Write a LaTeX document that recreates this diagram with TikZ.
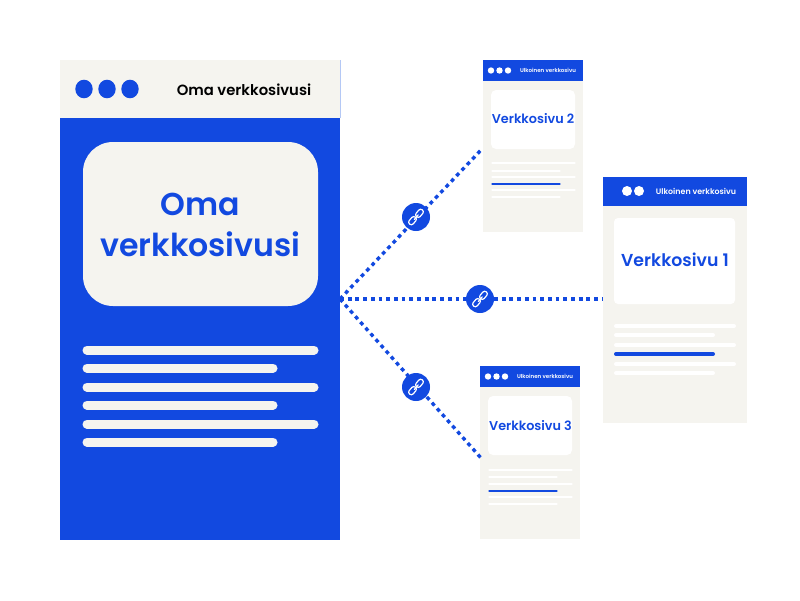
\documentclass[tikz,border=0pt]{standalone}
\usepackage{fontspec}
\setmainfont[UprightFont=* Medium,BoldFont=* SemiBold]{Poppins}
\definecolor{brand}{HTML}{1249E0}
\definecolor{paper}{HTML}{F5F4EF}
\definecolor{edge}{HTML}{B4C8F5}
\tikzset{
  panel/.style={rectangle,inner sep=0pt,outer sep=0pt,anchor=north west},
  bar/.style={line cap=round,line width=#1},
  dotline/.style={draw=brand,line width=3.4pt,dash pattern=on 3.8pt off 3.9pt},
  linkdisc/.style={circle,fill=brand,inner sep=0pt,minimum size=28pt},
  pics/chainicon/.style={code={
    \draw[white,line width=1.2pt,rounded corners=2.4pt,rotate=50] (-9.5,-2.9) rectangle (-0.6,2.3);
    \draw[white,line width=1.2pt,rounded corners=2.4pt,rotate=50] (0.6,-2.3) rectangle (9.5,2.9);
    \draw[white,line width=1.2pt,line cap=round,rotate=50] (-3,0.3) -- (3,0.3);
  }}
}
\begin{document}
\begin{tikzpicture}[x=1pt,y=-1pt]
\useasboundingbox[fill=white] (0,0) rectangle (800,600);
% main page
\node[panel,fill=brand,minimum width=280pt,minimum height=480pt] (main) at (60,60) {};
\node[panel,fill=paper,minimum width=280pt,minimum height=58pt] (mainhead) at (60,60) {};
\draw[edge,line width=0.8pt] (340,60) -- (340,118);
\fill[brand] (84,89) ellipse (8.7 and 9.3) (107,89) ellipse (8.7 and 9.3) (130,89) ellipse (8.7 and 9.3);
\node[inner sep=0pt,font=\fontsize{14.8}{17}\selectfont\bfseries,text=black] (maintitle) at (244,89.5) {Oma verkkosivusi};
\node[panel,fill=paper,rounded corners=30pt,minimum width=235pt,minimum height=164pt] (maincard) at (83,142) {};
\node[inner sep=0pt,font=\fontsize{31.6}{41}\selectfont\bfseries,text=brand,align=center] (maintext) at (200.5,225) {Oma\\verkkosivusi};
\foreach \y/\e in {350/318,368/277,387/318,405/277,424/318,442/277}
  \draw[paper,bar=9pt] (87,\y) -- (\e-4,\y);
% window 1
\node[panel,fill=paper,minimum width=144pt,minimum height=246pt] (win1) at (603,177) {};
\node[panel,fill=brand,minimum width=144pt,minimum height=29pt] (win1head) at (603,177) {};
\fill[white] (627,191) circle (5) (639,191) circle (5);
\node[inner sep=0pt,font=\fontsize{7.9}{9}\selectfont\bfseries,text=white] (win1label) at (696,191) {Ulkoinen verkkosivu};
\node[panel,fill=white,rounded corners=4pt,minimum width=121pt,minimum height=86pt] (win1card) at (614,218) {};
\node[inner sep=0pt,font=\fontsize{17.3}{20}\selectfont\bfseries,text=brand] (win1text) at (675,260) {Verkkosivu 1};
\foreach \y/\e in {326/736,335/715,345/736,364/736,373/715}
  \draw[white,bar=4pt] (616,\y) -- (\e-2,\y);
\draw[brand,bar=4pt] (616,354) -- (713,354);
% window 2
\node[panel,fill=paper,minimum width=100pt,minimum height=172pt] (win2) at (483,60) {};
\node[panel,fill=brand,minimum width=100pt,minimum height=21pt] (win2head) at (483,60) {};
\fill[white] (491,70.5) circle (3.2) (499.5,70.5) circle (3.2) (508,70.5) circle (3.2);
\node[inner sep=0pt,font=\fontsize{5.5}{6}\selectfont\bfseries,text=white] (win2label) at (548,70) {Ulkoinen verkkosivu};
\node[panel,fill=white,rounded corners=5pt,minimum width=84pt,minimum height=59pt] (win2card) at (491,90) {};
\node[inner sep=0pt,font=\fontsize{12.8}{14}\selectfont\bfseries,text=brand] (win2text) at (533,119) {Verkkosivu 2};
\foreach \y/\e in {163/576,171/561,177/576,190/576,197/561}
  \draw[white,bar=2.8pt] (492.5,\y) -- (\e-1.5,\y);
\draw[brand,bar=2.8pt] (492.5,184) -- (559.5,184);
% window 3
\node[panel,fill=paper,minimum width=100pt,minimum height=173pt] (win3) at (480,366) {};
\node[panel,fill=brand,minimum width=100pt,minimum height=21pt] (win3head) at (480,366) {};
\fill[white] (488,376.5) circle (3.2) (496.5,376.5) circle (3.2) (505,376.5) circle (3.2);
\node[inner sep=0pt,font=\fontsize{5.5}{6}\selectfont\bfseries,text=white] (win3label) at (545,376) {Ulkoinen verkkosivu};
\node[panel,fill=white,rounded corners=5pt,minimum width=84pt,minimum height=59pt] (win3card) at (488,396) {};
\node[inner sep=0pt,font=\fontsize{12.8}{14}\selectfont\bfseries,text=brand] (win3text) at (530.5,426) {Verkkosivu 3};
\foreach \y/\e in {470/573,477/558,484/573,497/573,504/558}
  \draw[white,bar=2.8pt] (489.5,\y) -- (\e-1.5,\y);
\draw[brand,bar=2.8pt] (489.5,491) -- (556.5,491);
% connectors
\coordinate (hub) at (340,299);
\coordinate (end1) at (603,299);
\coordinate (end2) at (481,150);
\coordinate (end3) at (481,458);
\draw[dotline] (hub) -- (end1);
\draw[dotline] (hub) -- (end2);
\draw[dotline] (hub) -- (end3);
\node[linkdisc] (link1) at (480,299) {};
\node[linkdisc] (link2) at (416,217) {};
\node[linkdisc] (link3) at (416,387) {};
\pic at (link1) {chainicon};
\pic at (link2) {chainicon};
\pic at (link3) {chainicon};
\end{tikzpicture}
\end{document}
